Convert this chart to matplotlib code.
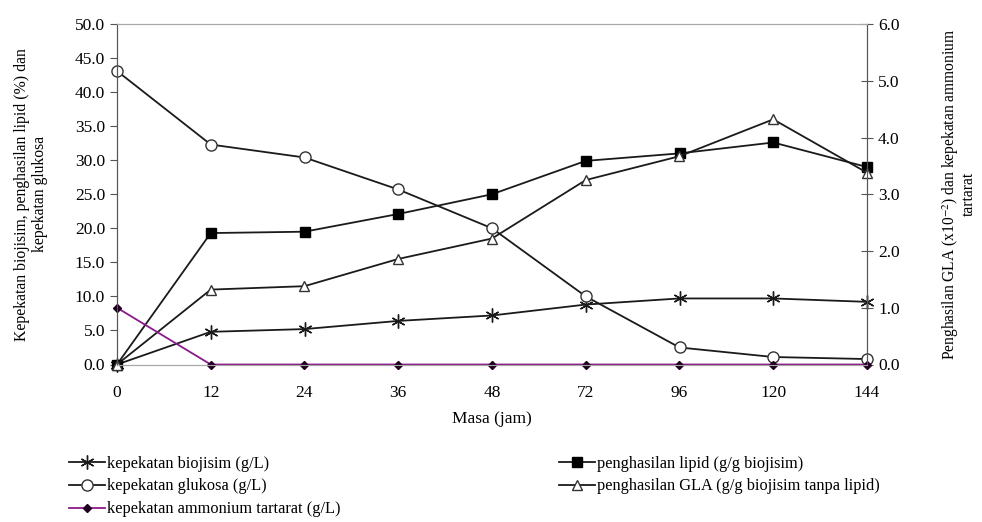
import matplotlib.pyplot as plt

plt.rcParams['font.family'] = ['Liberation Serif', 'DejaVu Serif']
plt.rcParams['mathtext.fontset'] = 'stix'

masa = ['0', '12', '24', '36', '48', '72', '96', '120', '144']
biojisim = [0.0, 4.8, 5.2, 6.4, 7.2, 8.8, 9.7, 9.7, 9.2]
glukosa = [43.1, 32.3, 30.4, 25.7, 20.0, 10.0, 2.5, 1.1, 0.8]
lipid = [0.0, 19.3, 19.5, 22.1, 25.0, 29.9, 31.0, 32.6, 29.0]
gla = [0.0, 1.32, 1.38, 1.86, 2.22, 3.25, 3.67, 4.32, 3.38]
ammonium = [1.0, 0, 0, 0, 0, 0, 0, 0, 0]

fs = 12.5
fig = plt.figure(figsize=(9.82, 5.22), dpi=100)
ax = fig.add_axes([117/982, 1 - 364.5/522, 750/982, 340.5/522])
ax2 = ax.twinx()

x = range(len(masa))
lw = 1.3
h1, = ax.plot(x, biojisim, color='#1a1a1a', lw=lw, marker=(6, 2, 0), ms=10,
              mew=1.0, clip_on=False, label='kepekatan biojisim (g/L)')
h2, = ax.plot(x, glukosa, color='#1a1a1a', lw=lw, marker='o', ms=8,
              mfc='white', mec='#333333', mew=1.0, clip_on=False,
              label='kepekatan glukosa (g/L)')
h4, = ax.plot(x, lipid, color='#1a1a1a', lw=lw, marker='s', ms=7.5,
              mfc='black', mec='black', clip_on=False,
              label='penghasilan lipid (g/g biojisim)')
h5, = ax2.plot(x, gla, color='#1a1a1a', lw=lw, marker='^', ms=7,
               mfc='white', mec='#333333', mew=1.0, clip_on=False,
               label='penghasilan GLA (g/g biojisim tanpa lipid)')
h3, = ax2.plot(x, ammonium, color='#8a1a8a', lw=lw, marker='D', ms=4,
               mfc='#220022', mec='#220022', clip_on=False,
               label='kepekatan ammonium tartarat (g/L)')

ax.set_xlim(0, len(masa) - 1)
ax.set_ylim(0, 50)
ax2.set_ylim(0, 6)
ax.set_xticks(list(x))
ax.set_xticklabels(masa)
ax.set_yticks([i * 5 for i in range(11)])
ax.set_yticklabels(['%.1f' % (i * 5) for i in range(11)])
ax2.set_yticks(range(7))
ax2.set_yticklabels(['%.1f' % i for i in range(7)])

ax.tick_params(axis='x', length=0, labelsize=fs, pad=15)
ax.tick_params(axis='y', direction='out', length=5, labelsize=fs, color='#555555')
ax2.tick_params(axis='y', direction='inout', length=9, labelsize=fs, color='#555555')

for a in (ax, ax2):
    a.spines['top'].set_color('#a8a8a8')
    a.spines['bottom'].set_color('#a8a8a8')
    a.spines['left'].set_color('#555555')
    a.spines['right'].set_color('#555555')

ax.set_xlabel('Masa (jam)', fontsize=fs, labelpad=7)
ax.set_ylabel('Kepekatan biojisim, penghasilan lipid (%) dan\nkepekatan glukosa',
              fontsize=11.3, linespacing=1.15)
ax.yaxis.set_label_coords(-0.092, 0.5)
ax2.set_ylabel('Penghasilan GLA (x10$^{-2}$) dan kepekatan ammonium\ntartarat',
               fontsize=11.2, linespacing=0.95, rotation=90)
ax2.yaxis.set_label_coords(1.098, 0.5)

fig.legend(handles=[h1, h2, h3, h4, h5], loc='upper left',
           bbox_to_anchor=(62/982, 1 - 449/522), ncol=2, frameon=False,
           fontsize=11.8, handlelength=2.2, handletextpad=0.15,
           columnspacing=13.3, labelspacing=0.42, borderaxespad=0)

fig.savefig('out.png', dpi=100)
